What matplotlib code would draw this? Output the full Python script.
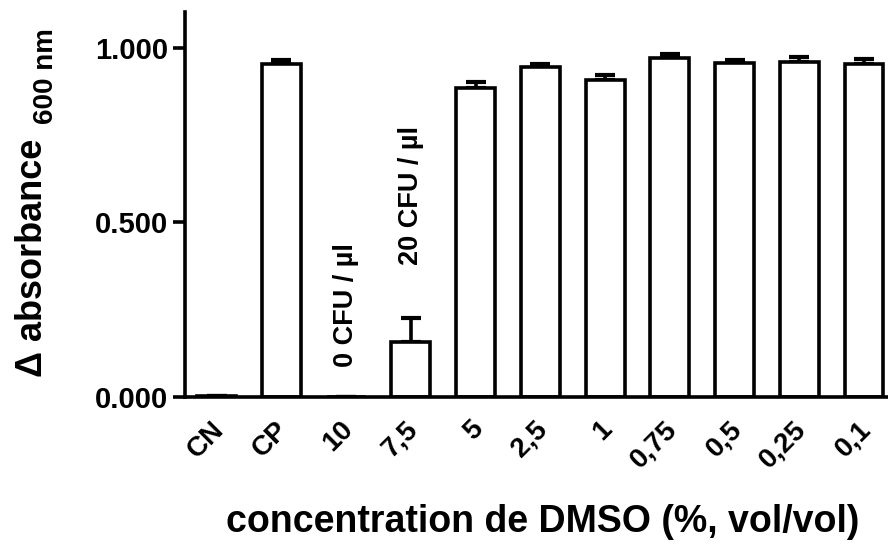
import numpy as np
import matplotlib
matplotlib.use("Agg")
import matplotlib.pyplot as plt
from matplotlib.transforms import ScaledTranslation

plt.rcParams['font.family'] = ['Liberation Sans', 'DejaVu Sans']
plt.rcParams['font.weight'] = 'bold'

# DMSO concentrations (% vol/vol) plus negative / positive controls
labels = ['CN', 'CP', '10', '7,5', '5', '2,5', '1', '0,75', '0,5', '0,25', '0,1']
means = [0.003, 0.954, 0.0, 0.158, 0.885, 0.946, 0.908, 0.972, 0.958, 0.959, 0.954]
errs = [0.0, 0.012, 0.0, 0.068, 0.018, 0.008, 0.014, 0.011, 0.007, 0.016, 0.013]

y_ticks = [0.0, 0.5, 1.0]
y_tick_labels = ['0.000', '0.500', '1.000']

# inoculum notes written above the 10 % and 7,5 % groups
notes = [(2, 0.086, '0 CFU / µl'), (3, 0.378, '20 CFU / µl')]

lw = 2.6
tick_fontsize = 20
ytick_fontsize = 21
label_fontsize = 27
note_fontsize = 19.5

fig = plt.figure(figsize=(8.88, 5.49), dpi=100)
ax = fig.add_axes([185 / 888, 152 / 549, 703 / 888, 385 / 549])

x = np.arange(len(labels))
lower = np.zeros(len(errs))
ax.bar(x, means, width=0.6, color='white', edgecolor='black', linewidth=lw, zorder=2)
ax.errorbar(x, means, yerr=[lower, errs], fmt='none', ecolor='black',
            elinewidth=lw, capsize=7.5, capthick=3.0, zorder=1)

ax.set_xlim(-0.49, 10.37)
ax.set_ylim(0, 1.103)

ax.spines['top'].set_visible(False)
ax.spines['right'].set_visible(False)
ax.spines['left'].set_linewidth(lw)
ax.spines['bottom'].set_linewidth(lw)

ax.set_yticks(y_ticks)
ax.set_yticklabels(y_tick_labels, fontsize=ytick_fontsize, fontweight='bold')
ax.tick_params(axis='y', length=9, width=lw, pad=3)

ax.set_xticks(x)
ax.set_xticklabels(labels, fontsize=tick_fontsize, fontweight='bold',
                   rotation=45, ha='right', rotation_mode='anchor')
ax.tick_params(axis='x', length=0, pad=16)
shift = ScaledTranslation(-0.06, 0.03, fig.dpi_scale_trans)
for lab in ax.get_xticklabels():
    lab.set_transform(lab.get_transform() + shift)

for xi, yi, txt in notes:
    ax.text(xi, yi, txt, rotation=90, ha='center', va='bottom',
            fontsize=note_fontsize, fontweight='bold')

fig.text(0.5 * (225 + 860) / 888, 1 - 522 / 549, 'concentration de DMSO (%, vol/vol)',
         ha='center', va='center', fontsize=label_fontsize, fontweight='bold')

# y label with the wavelength as a lowered subscript
fig.text(33 / 888, 1 - 377 / 549, 'Δ absorbance', rotation=90, ha='center', va='bottom',
         fontsize=26, fontweight='bold')
fig.text(46 / 888, 1 - 124 / 549, '600 nm', rotation=90, ha='center', va='bottom',
         fontsize=20, fontweight='bold')

fig.savefig('out.png', dpi=100)
